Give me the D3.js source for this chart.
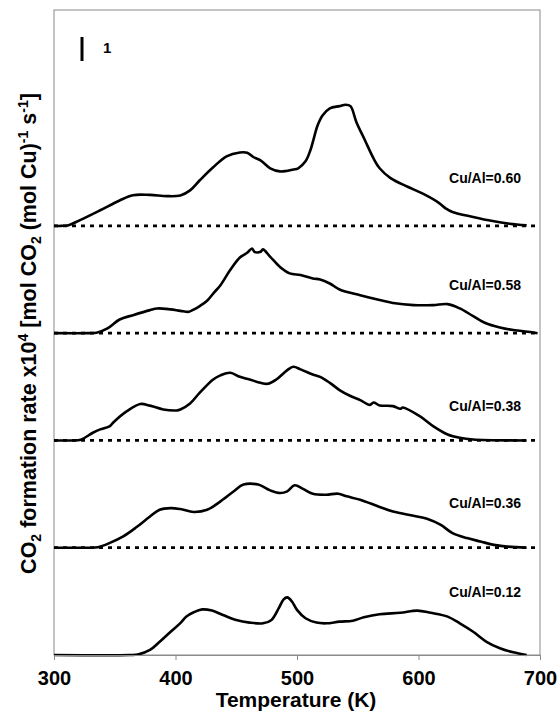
<!DOCTYPE html>
<html>
<head>
<meta charset="utf-8">
<script src="https://cdn.jsdelivr.net/npm/d3@7"></script>
<style>
  body { margin: 0; background: #fff; }
  svg { display: block; font-family: Arial, "Liberation Sans", sans-serif; }
</style>
</head>
<body>
<svg id="chart" width="560" height="713"></svg>
<script>
// Sample names, top trace first
const labels = ["Cu/Al=0.60", "Cu/Al=0.58", "Cu/Al=0.38", "Cu/Al=0.36", "Cu/Al=0.12"];
const xTicks = [300, 400, 500, 600, 700];

// Temperature (K) and CO2 formation rate (x10^4) for each sample
const t060 = [300,306,312,321,338,354,365,379,393,404,412,420,431,442,453,459,464,470,478,486,497,501,507,511,517,521,527,535,540,544,549,556,563,568,577,591,604,617,622,628,645,661,675,689];
const r060 = [0,0,0.03,0.23,0.65,1.06,1.28,1.29,1.24,1.27,1.48,1.90,2.44,2.90,3.06,3.05,2.87,2.73,2.40,2.27,2.35,2.40,2.69,3.15,4.19,4.60,4.90,4.99,5.05,4.99,4.31,3.56,2.81,2.40,1.99,1.63,1.33,0.95,0.74,0.58,0.37,0.20,0.09,0.02];

const t058 = [300,328,335,344,354,365,379,385,396,404,411,414,420,426,431,437,445,453,459,463,465,470,472,478,486,494,503,513,519,527,535,552,568,579,596,612,624,634,645,656,667,678,692,698];
const r058 = [0,0,0.02,0.20,0.57,0.75,0.96,1.03,0.99,0.93,0.89,0.96,1.13,1.35,1.65,2.00,2.63,3.15,3.35,3.53,3.39,3.39,3.49,3.18,2.76,2.49,2.42,2.28,2.24,2.07,1.82,1.58,1.38,1.26,1.17,1.17,1.21,1.03,0.71,0.40,0.24,0.13,0.05,0];

const t038 = [300,315,322,332,338,346,349,360,371,379,390,401,404,412,420,431,437,445,453,461,470,476,483,492,497,503,513,519,527,535,544,552,560,563,568,579,585,587,601,612,624,634,645,689];
const r038 = [0,0,0.03,0.32,0.46,0.60,0.76,1.22,1.52,1.45,1.29,1.25,1.29,1.54,1.99,2.54,2.71,2.82,2.65,2.54,2.40,2.36,2.54,2.93,3.07,2.96,2.75,2.65,2.40,2.10,1.85,1.68,1.48,1.58,1.46,1.43,1.32,1.37,1.01,0.60,0.25,0.11,0.04,0];

const t036 = [300,328,336,346,357,368,379,387,396,404,415,426,437,448,456,468,478,486,492,498,505,513,524,534,541,552,568,579,596,607,618,628,640,651,661,673,689];
const r036 = [0,0,0.02,0.20,0.47,0.86,1.30,1.58,1.65,1.61,1.49,1.58,1.93,2.35,2.63,2.63,2.39,2.28,2.35,2.60,2.45,2.25,2.21,2.25,2.14,2.00,1.70,1.51,1.33,1.21,0.96,0.61,0.40,0.26,0.13,0.05,0];

const t012 = [300,362,369,379,387,396,404,409,415,422,430,439,450,461,472,479,485,489,492,496,500,507,516,524,535,546,555,568,585,599,610,624,634,645,656,667,678,689];
const r012 = [0,0,0.02,0.21,0.55,0.97,1.33,1.60,1.78,1.90,1.85,1.67,1.46,1.35,1.32,1.46,1.95,2.32,2.40,2.22,1.88,1.53,1.35,1.32,1.39,1.43,1.57,1.70,1.76,1.85,1.76,1.60,1.32,0.97,0.55,0.28,0.11,0];

const temps = [t060, t058, t038, t036, t012];
const rates = [r060, r058, r038, r036, r012];

// Layout
const W = 560, H = 713;
const plotL = 54, plotR = 540, plotT = 10, plotB = 655;
const step = 4.47;          // vertical offset between traces, in rate units
const yMax = 26.875;
const labelLevel = [1.98, 2.0, 1.43, 1.88, 2.64]; // height of each sample name above its baseline
const axisGray = "#8a8a8a";

const svg = d3.select("#chart");
svg.append("rect").attr("width", W).attr("height", H).attr("fill", "#fff");

const x = d3.scaleLinear().domain([300, 700]).range([plotL, plotR]);
const y = d3.scaleLinear().domain([0, yMax]).range([plotB, plotT]);

// Plot frame
svg.append("rect")
  .attr("x", plotL).attr("y", plotT)
  .attr("width", plotR - plotL).attr("height", plotB - plotT)
  .attr("fill", "none").attr("stroke", axisGray).attr("stroke-width", 1);

const n = labels.length;
const offsetOf = i => (n - 1 - i) * step;

// Dashed zero lines for the shifted traces
labels.forEach((lab, i) => {
  const off = offsetOf(i);
  if (off === 0) return;
  svg.append("line")
    .attr("x1", plotL).attr("x2", plotR)
    .attr("y1", y(off)).attr("y2", y(off))
    .attr("stroke", "#000").attr("stroke-width", 2.8)
    .attr("stroke-dasharray", "4,5");
});

// Traces
const line = d3.line()
  .x(d => x(d[0]))
  .y(d => y(d[1]))
  .curve(d3.curveCatmullRom.alpha(0.5));

labels.forEach((lab, i) => {
  const off = offsetOf(i);
  const pts = temps[i].map((t, k) => [t, rates[i][k] + off]);
  svg.append("path")
    .attr("d", line(pts))
    .attr("fill", "none")
    .attr("stroke", "#000")
    .attr("stroke-width", 2.6)
    .attr("stroke-linejoin", "round");

  svg.append("text")
    .attr("x", 521)
    .attr("y", y(off + labelLevel[i]) + 5)
    .attr("text-anchor", "end")
    .attr("font-size", 14)
    .attr("font-weight", "bold")
    .text(lab);
});

// Scale bar: one rate unit
svg.append("line")
  .attr("x1", 82).attr("x2", 82)
  .attr("y1", y(25.75)).attr("y2", y(24.75))
  .attr("stroke", "#000").attr("stroke-width", 3);
svg.append("text")
  .attr("x", 103).attr("y", 53)
  .attr("font-size", 15).attr("font-weight", "bold")
  .text("1");

// X axis
const xAxis = svg.append("g")
  .attr("transform", `translate(0,${plotB})`)
  .call(d3.axisBottom(x).tickValues(xTicks).tickSize(5).tickPadding(11).tickSizeOuter(0));
xAxis.select(".domain").attr("stroke", axisGray);
xAxis.selectAll(".tick line").attr("stroke", axisGray);
xAxis.selectAll(".tick text")
  .attr("font-size", 20).attr("font-weight", "bold")
  .attr("font-family", "Arial, 'Liberation Sans', sans-serif")
  .attr("fill", "#000");

// Axis titles
svg.append("text")
  .attr("x", (plotL + plotR) / 2 - 1).attr("y", 707)
  .attr("text-anchor", "middle")
  .attr("font-size", 21).attr("font-weight", "bold")
  .text("Temperature (K)");

const yt = svg.append("text")
  .attr("transform", `translate(36,${(plotT + plotB) / 2 + 1}) rotate(-90)`)
  .attr("text-anchor", "middle")
  .attr("font-size", 21.5).attr("font-weight", "bold");
const parts = [
  ["CO", 0], ["2", 1], [" formation rate x10", 0], ["4", -1],
  [" [mol CO", 0], ["2", 1], [" (mol Cu)", 0], ["-1", -1],
  [" s", 0], ["-1", -1], ["]", 0]
];
let shift = 0;
parts.forEach(([txt, pos]) => {
  const target = pos === 1 ? 5 : pos === -1 ? -8 : 0;
  yt.append("tspan")
    .attr("dy", target - shift)
    .attr("font-size", pos === 0 ? 21.5 : 14)
    .text(txt);
  shift = target;
});
</script>
</body>
</html>
